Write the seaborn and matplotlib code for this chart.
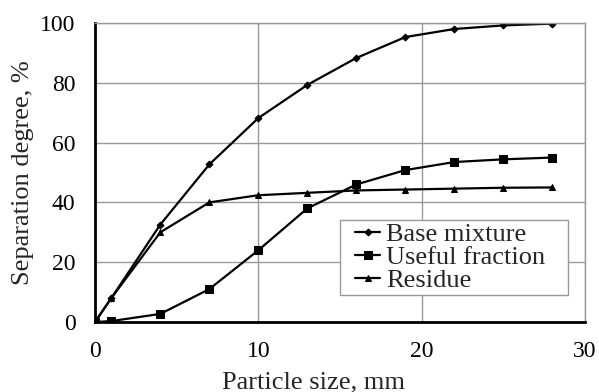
import matplotlib
matplotlib.use("Agg")
import matplotlib.pyplot as plt
import seaborn as sns
import pandas as pd
from matplotlib.patches import Rectangle

# Data
size_mm = [0, 1, 4, 7, 10, 13, 16, 19, 22, 25, 28]
base_mixture = [0, 8, 32.6, 52.7, 68.2, 79.3, 88.3, 95.3, 98.0, 99.2, 99.8]
useful_fraction = [0, 0.3, 2.7, 11.0, 24.0, 38.0, 46.0, 50.8, 53.5, 54.4, 55.0]
residue = [0, 8, 30.0, 40.0, 42.4, 43.2, 44.0, 44.3, 44.6, 44.9, 45.0]

series_names = ["Base mixture", "Useful fraction", "Residue"]
markers = ["D", "s", "^"]
marker_sizes = [3.5, 5.5, 5]

df = pd.DataFrame({
    "size": size_mm * 3,
    "value": base_mixture + useful_fraction + residue,
    "series": [n for n in series_names for _ in size_mm],
})

sns.set_style("white")
plt.rcParams["font.family"] = ["Liberation Serif", "DejaVu Serif"]

fig = plt.figure(figsize=(5.99, 3.92), dpi=100)
ax = fig.add_axes([0.1586, 0.1786, 0.818, 0.7627])

for name, mk, ms in zip(series_names, markers, marker_sizes):
    sub = df[df["series"] == name]
    sns.lineplot(data=sub, x="size", y="value", ax=ax, color="black",
                 linewidth=1.6, marker=mk, markersize=ms, markeredgecolor="black",
                 label=name, sort=False)

ax.set_xlim(0, 30)
ax.set_ylim(0, 100)
ax.set_xticks([0, 10, 20, 30])
ax.set_yticks([0, 20, 40, 60, 80, 100])
ax.grid(True, color="#9a9a9a", linewidth=1)
ax.set_axisbelow(True)

for side in ["top", "right"]:
    ax.spines[side].set_color("#9a9a9a")
    ax.spines[side].set_linewidth(1)
for side in ["left", "bottom"]:
    ax.spines[side].set_color("black")
    ax.spines[side].set_linewidth(2)

ax.tick_params(direction="in", length=4, width=1.5, colors="black",
               labelsize=17)
ax.tick_params(axis="y", pad=14)
ax.tick_params(axis="x", pad=14)
ax.set_xlabel("Particle size, mm", fontsize=19)
ax.xaxis.set_label_coords(0.445, -0.165)
ax.set_ylabel("Separation degree, %", fontsize=19)
ax.yaxis.set_label_coords(-0.125, 0.5)

# legend without own frame; the grey box is drawn separately (wider than the text)
leg = ax.legend(loc="upper left", bbox_to_anchor=(0.531, 0.332), fontsize=19,
                frameon=False, handlelength=0.95, handletextpad=0.23,
                labelspacing=-0.02, borderpad=0, borderaxespad=0)
ax.add_patch(Rectangle((0.5, 0.09), 0.465, 0.251, transform=ax.transAxes,
                       facecolor="white", edgecolor="#9a9a9a", linewidth=1,
                       zorder=4.5))
leg.set_zorder(5)

fig.savefig("out.png", dpi=100)
